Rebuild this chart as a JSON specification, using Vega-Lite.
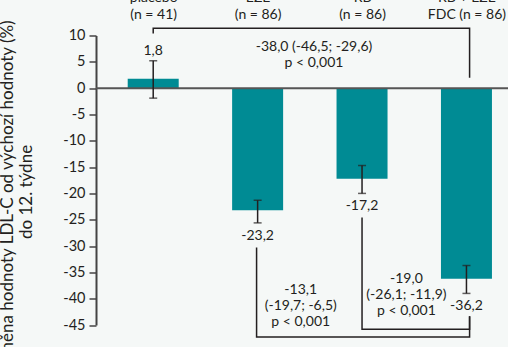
{
  "$schema": "https://vega.github.io/schema/vega-lite/v6.json",
  "width": 412,
  "height": 289.5,
  "autosize": {"type": "none"},
  "padding": {"left": 96, "top": 35.5, "right": 0, "bottom": 22},
  "background": "#f5f8f7",
  "config": {
    "view": {"stroke": null},
    "font": "Lato",
    "axisY": {"labelOverlap": false, "labelBound": false, "labelFlush": false, "labelSeparation": 0},
    "locale": {"number": {"decimal": ",", "thousands": " ", "grouping": [3], "currency": ["", " Kč"], "minus": "-"}},
    "text": {"font": "Lato", "fontSize": 14, "color": "#231f20"}
  },
  "datasets": {
    "groups": [
      {"idx": 0, "group": "placebo", "mean": 1.8, "lo": -1.9, "hi": 5.2},
      {"idx": 1, "group": "EZE", "mean": -23.2, "lo": -25.6, "hi": -21.3},
      {"idx": 2, "group": "RB", "mean": -17.2, "lo": -20.0, "hi": -14.7},
      {"idx": 3, "group": "RB + EZE FDC", "mean": -36.2, "lo": -39.0, "hi": -33.7}
    ],
    "brackets": [
      {"b": "top", "o": 1, "x": 0, "y": 10.5},
      {"b": "top", "o": 2, "x": 0, "y": 11.4},
      {"b": "top", "o": 3, "x": 3.03, "y": 11.4},
      {"b": "top", "o": 4, "x": 3.03, "y": 2.1},
      {"b": "eze", "o": 1, "x": 0.99, "y": -30.4},
      {"b": "eze", "o": 2, "x": 0.99, "y": -47.3},
      {"b": "eze", "o": 3, "x": 3.03, "y": -47.3},
      {"b": "eze", "o": 4, "x": 3.03, "y": -43.5},
      {"b": "rb", "o": 1, "x": 2.0, "y": -24.7},
      {"b": "rb", "o": 2, "x": 2.0, "y": -45.8},
      {"b": "rb", "o": 3, "x": 3.03, "y": -45.8},
      {"b": "rb", "o": 4, "x": 3.03, "y": -43.5}
    ],
    "notes": [
      {"x": 1.54, "y": 7.8, "text": ["-38,0 (-46,5; -29,6)", "p < 0,001"]},
      {"x": 1.413, "y": -38.3, "text": ["-13,1", "(-19,7; -6,5)", "p < 0,001"]},
      {"x": 2.425, "y": -36.3, "text": ["-19,0", "(-26,1; -11,9)", "p < 0,001"]}
    ]
  },
  "layer": [
    {
      "data": {"name": "groups"},
      "mark": {"type": "bar", "width": 51, "color": "#008b94"},
      "encoding": {
        "x": {
          "field": "idx", "type": "quantitative",
          "scale": {"domain": [-0.5, 3.35], "nice": false, "zero": false},
          "axis": {
            "orient": "top", "values": [0, 1, 2, 3], "domain": false, "ticks": false, "grid": false, "title": null,
            "labelExpr": "[['placebo','(n = 41)'],['EZE','(n = 86)'],['RB','(n = 86)'],['RB + EZE','FDC (n = 86)']][datum.value]",
            "labelFont": "Lato", "labelFontSize": 14, "labelColor": "#231f20", "labelLineHeight": 17, "labelPadding": 31, "labelOverlap": false
          }
        },
        "y": {
          "field": "mean", "type": "quantitative",
          "scale": {"domain": [-45, 10], "nice": false},
          "axis": {
            "orient": "left", "tickCount": 11,
            "labelExpr": "'' + datum.value",
            "grid": false, "domainColor": "#444", "domainWidth": 2, "tickColor": "#444", "tickWidth": 1.5, "tickSize": 7,
            "labelFont": "Lato", "labelFontSize": 14.5, "labelColor": "#231f20", "labelPadding": 4, "labelOverlap": false,
            "title": ["změna hodnoty LDL-C od  výchozí hodnoty (%)", "do 12. týdne"],
            "titleFont": "Lato", "titleFontSize": 17, "titleFontWeight": "normal", "titleColor": "#231f20",
            "titleLineHeight": 19, "titleX": -88.5, "titleY": 156, "titleBaseline": "middle", "titleAngle": 270
          }
        }
      }
    },
    {
      "data": {"values": [{"zero": 0}]},
      "mark": {"type": "rule", "color": "#555", "strokeWidth": 2},
      "encoding": {"y": {"field": "zero", "type": "quantitative"}}
    },
    {
      "data": {"name": "groups"},
      "mark": {"type": "rule", "color": "#231f20", "strokeWidth": 1.5},
      "encoding": {"x": {"field": "idx", "type": "quantitative"}, "y": {"field": "lo", "type": "quantitative"}, "y2": {"field": "hi"}}
    },
    {
      "data": {"name": "groups"},
      "mark": {"type": "tick", "orient": "horizontal", "size": 8, "thickness": 1.5, "color": "#231f20"},
      "encoding": {"x": {"field": "idx", "type": "quantitative"}, "y": {"field": "lo", "type": "quantitative"}}
    },
    {
      "data": {"name": "groups"},
      "mark": {"type": "tick", "orient": "horizontal", "size": 8, "thickness": 1.5, "color": "#231f20"},
      "encoding": {"x": {"field": "idx", "type": "quantitative"}, "y": {"field": "hi", "type": "quantitative"}}
    },
    {
      "data": {"name": "groups"},
      "transform": [{"filter": "datum.mean > 0"}],
      "mark": {"type": "text", "baseline": "bottom", "dy": -3},
      "encoding": {
        "x": {"field": "idx", "type": "quantitative"},
        "y": {"field": "hi", "type": "quantitative"},
        "text": {"field": "mean", "type": "quantitative", "format": ".1f"}
      }
    },
    {
      "data": {"name": "groups"},
      "transform": [{"filter": "datum.mean < 0"}],
      "mark": {"type": "text", "baseline": "top", "dy": 6},
      "encoding": {
        "x": {"field": "idx", "type": "quantitative"},
        "y": {"field": "lo", "type": "quantitative"},
        "text": {"field": "mean", "type": "quantitative", "format": ".1f"}
      }
    },
    {
      "data": {"name": "brackets"},
      "mark": {"type": "line", "color": "#231f20", "strokeWidth": 1.5, "strokeCap": "square"},
      "encoding": {
        "x": {"field": "x", "type": "quantitative"},
        "y": {"field": "y", "type": "quantitative"},
        "detail": {"field": "b"},
        "order": {"field": "o"}
      }
    },
    {
      "data": {"name": "notes"},
      "mark": {"type": "text", "baseline": "middle", "lineHeight": 16},
      "encoding": {
        "x": {"field": "x", "type": "quantitative"},
        "y": {"field": "y", "type": "quantitative"},
        "text": {"field": "text"}
      }
    }
  ]
}
